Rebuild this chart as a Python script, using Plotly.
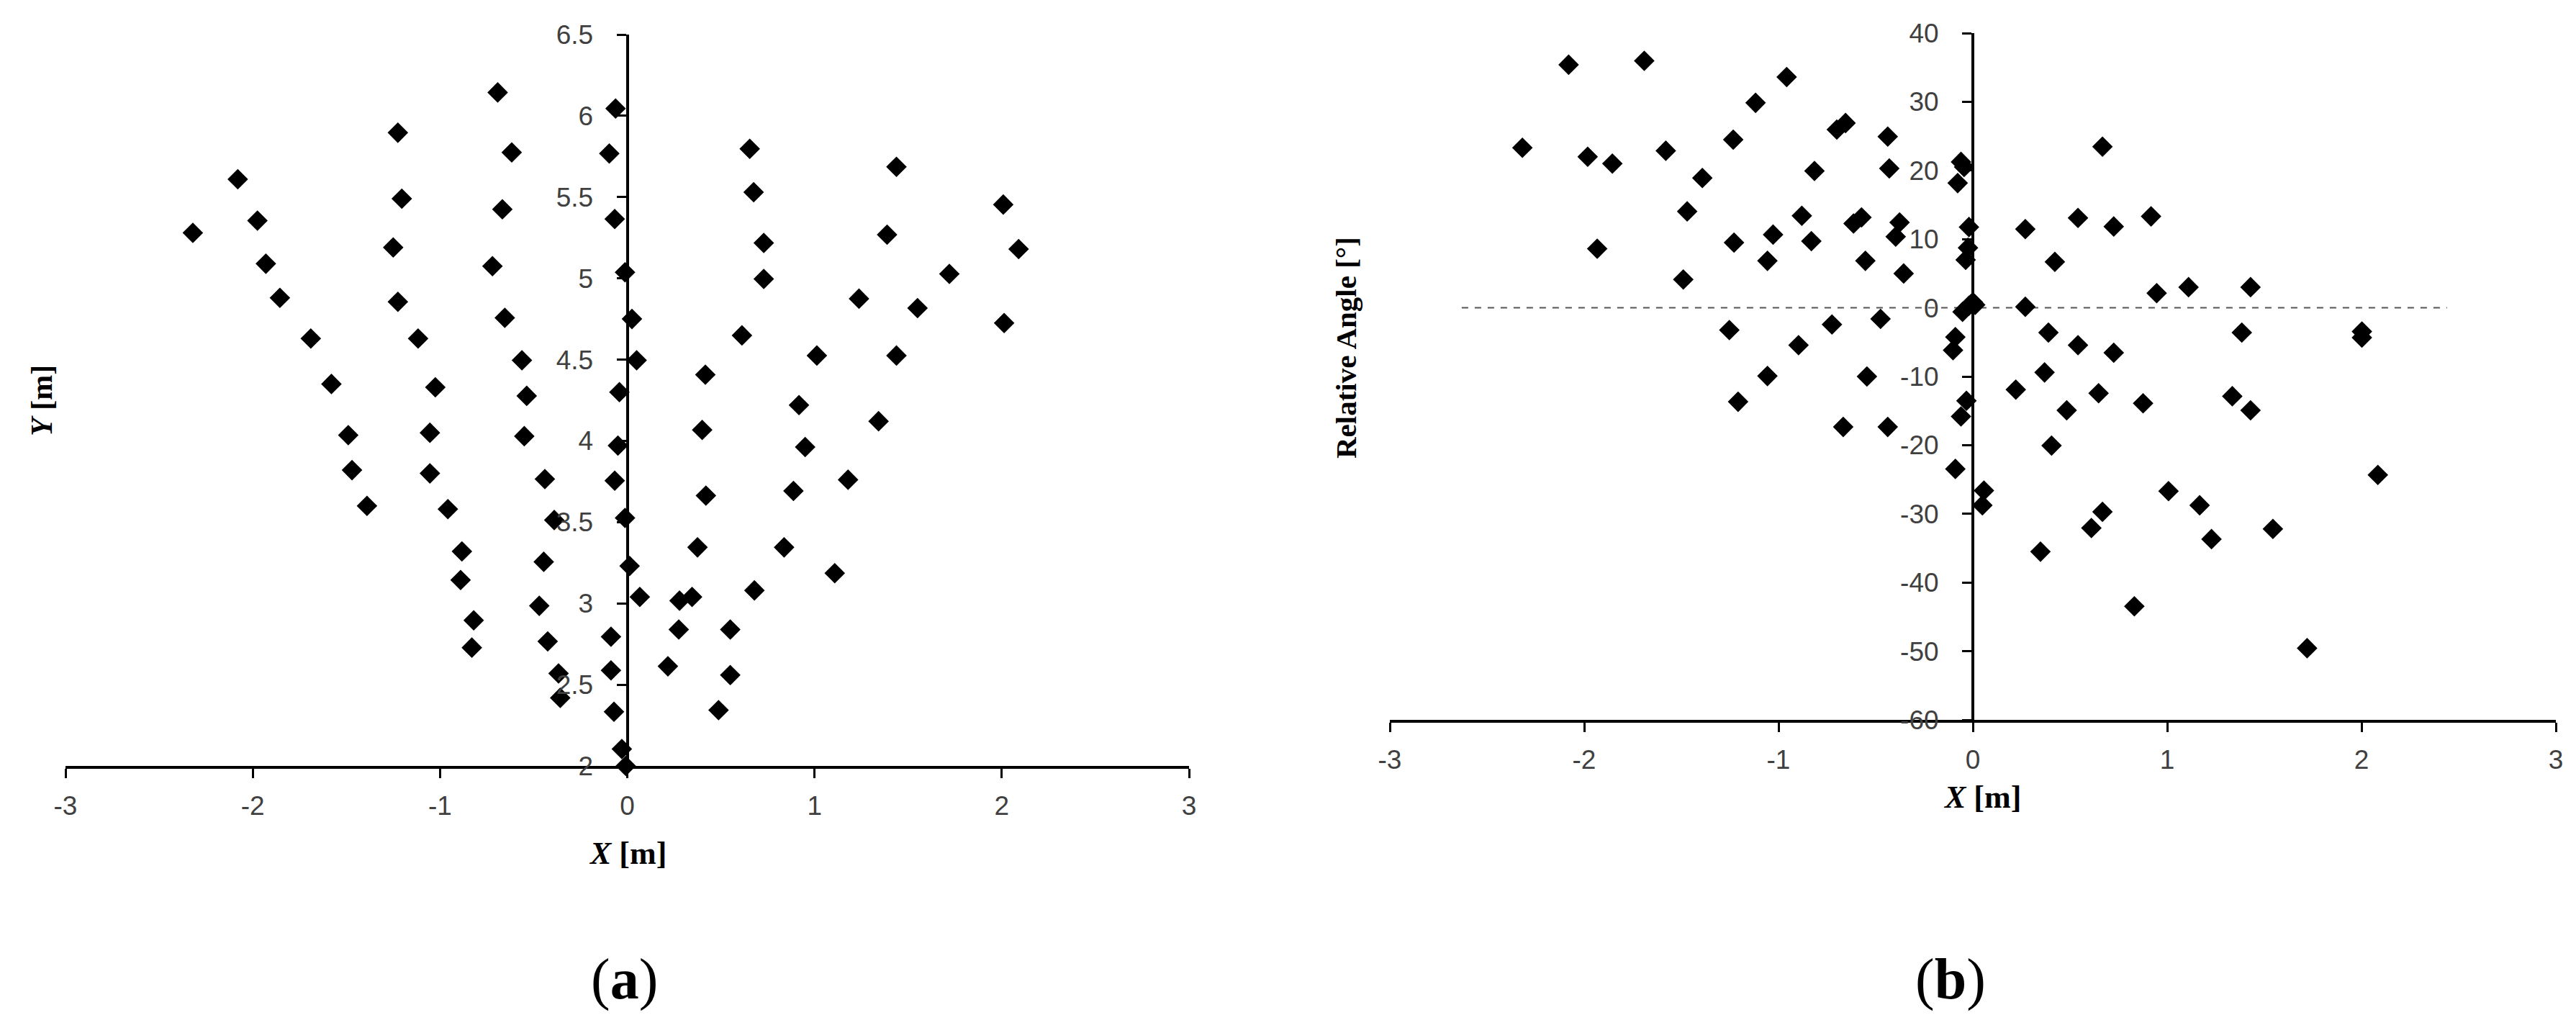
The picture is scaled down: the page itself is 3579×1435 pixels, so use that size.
import plotly.graph_objects as go

# ---- Panel (a): positions X [m], Y [m]
pos_x = [-2.32, -2.08, -1.975, -1.93, -1.855, -1.69, -1.58, -1.49, -1.47, -1.39,
         -1.225, -1.204, -1.25, -1.225, -1.117, -1.025, -1.054, -1.054, -0.958, -0.883,
         -0.89, -0.82, -0.83,
         -0.692, -0.617, -0.667, -0.72, -0.654, -0.5625, -0.537, -0.55, -0.44, -0.39,
         -0.446, -0.47, -0.425, -0.367, -0.358,
         -0.0625, -0.096, -0.067, -0.012, 0.025, 0.05, -0.042, -0.05, -0.067, -0.012,
         0.0125, 0.067, -0.087, -0.087, -0.071, -0.029, -0.008,
         0.217, 0.275, 0.279, 0.346, 0.375, 0.42, 0.40, 0.417, 0.4875, 0.55, 0.55,
         0.679, 0.6125, 0.654, 0.675, 0.729, 0.729,
         0.8375, 0.8875, 0.95, 0.917, 1.0125, 1.108, 1.179, 1.2375, 1.342, 1.3875,
         1.4375, 1.4375, 1.55, 1.72, 2.008, 2.0125, 2.09]
pos_y = [5.28, 5.61, 5.355, 5.09, 4.88, 4.63, 4.35, 4.035, 3.82, 3.60,
         5.896, 5.49, 5.19, 4.856, 4.63, 4.33, 4.05, 3.80, 3.58, 3.32,
         3.144, 2.896, 2.728,
         6.144, 5.775, 5.425, 5.075, 4.757, 4.496, 4.277, 4.029, 3.765, 3.513,
         3.256, 2.985, 2.766, 2.569, 2.419,
         6.045, 5.768, 5.365, 5.037, 4.75, 4.496, 4.30, 3.971, 3.755, 3.526,
         3.23, 3.04, 2.795, 2.588, 2.333, 2.104, 2.0,
         2.613, 2.839, 3.017, 3.04, 3.345, 3.663, 4.067, 4.407, 2.343, 2.559, 2.839,
         3.08, 4.649, 5.797, 5.53, 5.218, 4.996,
         3.345, 3.692, 3.962, 4.22, 4.525, 3.186, 3.761, 4.875, 4.121, 5.269,
         5.686, 4.525, 4.817, 5.027, 5.454, 4.725, 5.18]

# ---- Panel (b): X [m], relative angle [deg]
ang_x = [-2.318, -2.08, -1.691, -1.982, -1.855, -1.933, -1.58, -1.392, -1.47, -1.49,
         -1.233, -1.118, -0.958, -1.229, -1.028, -1.057, -0.88, -0.831, -0.815, -0.70,
         -0.655, -0.614, -0.573, -0.553, -0.438, -0.43, -0.377, -0.397, -0.356,
         -1.253, -0.897, -0.725, -0.475, -1.057, -0.545, -1.208, -0.667, -0.438,
         -0.061, -0.045, -0.078, -0.02, -0.025, -0.037, 0.0, -0.02, 0.012, -0.053,
         -0.09, -0.102, -0.033, -0.061, -0.09, 0.057, 0.049,
         0.27, 0.27, 0.422, 0.389, 0.369, 0.221, 0.405, 0.348, 0.541, 0.541, 0.483,
         0.667, 0.725, 0.725, 0.647, 0.667, 0.61, 0.831, 0.876, 0.917, 0.946, 1.007,
         1.11, 1.167, 1.228, 1.335, 1.384, 1.429, 1.429, 1.544, 1.72, 2.002, 2.002, 2.084]
ang_y = [23.3, 35.4, 35.96, 21.99, 21.0, 8.6, 22.87, 18.9, 14.04, 4.12,
         24.49, 29.85, 33.6, 9.49, 10.66, 6.84, 13.4, 9.71, 19.93, 25.96,
         26.91, 12.28, 13.16, 6.84, 24.93, 20.3, 12.43, 10.37, 5.0,
         -3.24, -5.44, -2.43, -1.62, -9.93, -10.0, -13.68, -17.35, -17.35,
         21.25, 20.5, 18.16, 11.76, 8.75, 6.99, 0.81, 0.3, 0.44, -0.59,
         -4.26, -6.18, -13.53, -15.81, -23.46, -26.62, -28.75,
         11.47, 0.15, 6.69, -3.6, -9.41, -11.91, -20.07, -35.51, 13.09, -5.44, -14.93,
         23.46, 11.84, -6.54, -12.43, -29.71, -32.06, -43.46, -13.9, 13.31, 2.13, -26.69,
         3.01, -28.75, -33.68, -12.87, -3.6, 3.01, -14.93, -32.2, -49.56, -3.46, -4.34, -24.34]

# reference line at zero angle (extent in X)
ref_x = [-2.63, 2.44]
ref_y = [0, 0]

x_ticks = [-3, -2, -1, 0, 1, 2, 3]
x_tick_text = ["-3", "-2", "-1", "0", "1", "2", "3"]
ya_ticks = [2, 2.5, 3, 3.5, 4, 4.5, 5, 5.5, 6, 6.5]
ya_tick_text = ["2", "2.5", "3", "3.5", "4", "4.5", "5", "5.5", "6", "6.5"]
yb_ticks = [-60, -50, -40, -30, -20, -10, 0, 10, 20, 30, 40]
yb_tick_text = ["-60", "-50", "-40", "-30", "-20", "-10", "0", "10", "20", "30", "40"]

W, H = 3579, 1435
OFF = 8  # page offset of the plot div
TICKFONT = dict(family="Liberation Sans Narrow, Arial Narrow, Liberation Sans, Arial",
                size=37, color="#404040")
SERIF = "Liberation Serif, Times New Roman, serif"


def fx(px):
    return (px - OFF) / W


def fy(py):
    return 1 - (py - OFF) / H


marker = dict(symbol="diamond", size=22, color="black", line=dict(width=0))

fig = go.Figure()
fig.add_trace(go.Scatter(x=pos_x, y=pos_y, mode="markers", marker=marker,
                         xaxis="x", yaxis="y", cliponaxis=False, showlegend=False))
fig.add_trace(go.Scatter(x=ref_x, y=ref_y, mode="lines",
                         line=dict(color="#555555", width=2, dash="dash"),
                         xaxis="x2", yaxis="y2", showlegend=False))
fig.add_trace(go.Scatter(x=ang_x, y=ang_y, mode="markers", marker=marker,
                         xaxis="x2", yaxis="y2", cliponaxis=False, showlegend=False))

xa_dom = [fx(91), fx(1652)]
ya_dom = [fy(1064), fy(48)]
xb_dom = [fx(1931), fx(3551)]
yb_dom = [fy(1000), fy(46)]

axis_common = dict(showline=True, linecolor="black", linewidth=4, ticks="outside",
                   ticklen=13, tickwidth=3, tickcolor="black", showgrid=False,
                   zeroline=False, tickfont=TICKFONT, automargin=False)

fig.update_layout(
    width=W, height=H, paper_bgcolor="white", plot_bgcolor="white",
    margin=dict(l=0, r=0, t=0, b=0, autoexpand=False),
    xaxis=dict(domain=xa_dom, range=[-3, 3], anchor="y", tickvals=x_ticks,
               ticktext=x_tick_text, ticklabelstandoff=7, **axis_common),
    yaxis=dict(domain=ya_dom, range=[2, 6.5], anchor="free",
               position=(xa_dom[0] + xa_dom[1]) / 2, tickvals=ya_ticks,
               ticktext=ya_tick_text, ticklabelstandoff=25, **axis_common),
    xaxis2=dict(domain=xb_dom, range=[-3, 3], anchor="y2", tickvals=x_ticks,
                ticktext=x_tick_text, ticklabelstandoff=7, **axis_common),
    yaxis2=dict(domain=yb_dom, range=[-60, 40], anchor="free",
                position=(xb_dom[0] + xb_dom[1]) / 2, tickvals=yb_ticks,
                ticktext=yb_tick_text, ticklabelstandoff=25, **axis_common),
)


def ann(text, px, py, size, angle=0):
    fig.add_annotation(text=text, x=fx(px), y=fy(py), xref="paper", yref="paper",
                       showarrow=False, xanchor="center", yanchor="middle",
                       textangle=angle, font=dict(family=SERIF, size=size, color="black"))


ann("<b><i>Y</i> [m]</b>", 58, 557, 42, -90)
ann("<b><i>X</i> [m]</b>", 872, 1185, 44)
ann("<b>Relative Angle [°]</b>", 1870, 483, 41, -90)
ann("<b><i>X</i> [m]</b>", 2754, 1107, 44)
ann("(<b>a</b>)", 867, 1360, 80)
ann("(<b>b</b>)", 2710, 1360, 80)

fig.write_html("out.html")
